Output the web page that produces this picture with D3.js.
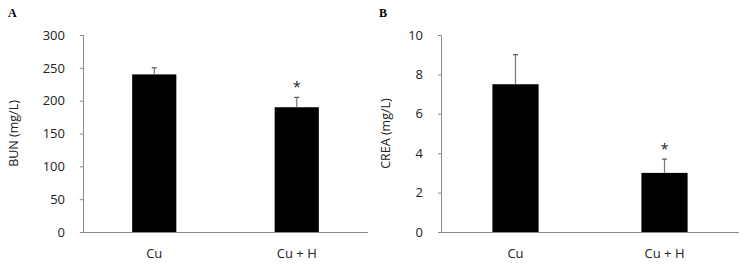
<!DOCTYPE html>
<html>
<head>
<meta charset="utf-8">
<script src="https://cdn.jsdelivr.net/npm/d3@7"></script>
<style>
  body { margin: 0; background: #fff; }
</style>
</head>
<body>
<div id="plot"></div>
<script>
// Data
const groups = ["Cu", "Cu + H"];
const bunMeans = [240, 190];
const bunErrors = [10, 15];
const creaMeans = [7.5, 3.0];
const creaErrors = [1.5, 0.7];
const bunTicks = [0, 50, 100, 150, 200, 250, 300];
const creaTicks = [0, 2, 4, 6, 8, 10];
const significant = [false, true];

const width = 742, height = 264;
const sans = "'Open Sans', 'Noto Sans', sans-serif";

const svg = d3.select("#plot")
    .append("svg")
    .attr("width", width)
    .attr("height", height);

// Draw one panel
function drawPanel(opt) {
    const g = svg.append("g");

    const x = d3.scaleBand()
        .domain(groups)
        .range([opt.left, opt.right])
        .paddingInner(0.69)
        .paddingOuter(0.345);

    const y = d3.scaleLinear()
        .domain([0, opt.max])
        .range([232, 35]);

    // y axis
    const yAxis = g.append("g")
        .attr("transform", `translate(${opt.left},0)`)
        .call(d3.axisLeft(y).tickValues(opt.ticks).tickSize(3).tickPadding(15));
    yAxis.select(".domain").attr("stroke", "#8a8a8a");
    yAxis.selectAll(".tick line").attr("stroke", "#8a8a8a");
    yAxis.selectAll(".tick text")
        .attr("fill", "#222")
        .style("font-family", sans)
        .style("font-size", "13px");

    // x axis line
    g.append("line")
        .attr("x1", opt.left).attr("x2", opt.right)
        .attr("y1", y(0) + 0.5).attr("y2", y(0) + 0.5)
        .attr("stroke", "#8a8a8a");

    // bars
    g.selectAll("rect.bar")
        .data(groups)
        .enter()
        .append("rect")
        .attr("class", "bar")
        .attr("x", d => x(d))
        .attr("width", x.bandwidth())
        .attr("y", (d, i) => y(opt.means[i]))
        .attr("height", (d, i) => y(0) - y(opt.means[i]))
        .attr("fill", "#000");

    // error bars (upper only)
    groups.forEach((d, i) => {
        const cx = x(d) + x.bandwidth() / 2;
        const top = y(opt.means[i] + opt.errors[i]);
        g.append("line")
            .attr("x1", cx).attr("x2", cx)
            .attr("y1", y(opt.means[i])).attr("y2", top)
            .attr("stroke", "#777").attr("stroke-width", 1.2);
        g.append("line")
            .attr("x1", cx - 2.5).attr("x2", cx + 2.5)
            .attr("y1", top).attr("y2", top)
            .attr("stroke", "#555").attr("stroke-width", 1.2);
        if (significant[i]) {
            g.append("text")
                .attr("x", cx)
                .attr("y", top - 5)
                .attr("text-anchor", "middle")
                .attr("fill", "#222")
                .style("font-family", sans)
                .style("font-size", "14px")
                .text("*");
        }
        // category labels
        g.append("text")
            .attr("x", cx)
            .attr("y", 258)
            .attr("text-anchor", "middle")
            .attr("fill", "#222")
            .style("font-family", sans)
            .style("font-size", "13px")
            .text(d);
    });

    // y label
    g.append("text")
        .attr("transform", `translate(${opt.labelX},${(y(0) + y(opt.max)) / 2}) rotate(-90)`)
        .attr("text-anchor", "middle")
        .attr("dy", "0.35em")
        .attr("fill", "#222")
        .style("font-family", sans)
        .style("font-size", "12.5px")
        .text(opt.label);

    // panel letter
    g.append("text")
        .attr("x", opt.letterX)
        .attr("y", 17)
        .attr("fill", "#000")
        .style("font-family", "'Liberation Serif', 'DejaVu Serif', serif")
        .style("font-weight", "bold")
        .style("font-size", "12px")
        .text(opt.letter);
}

drawPanel({
    left: 83, right: 368, max: 300, ticks: bunTicks,
    means: bunMeans, errors: bunErrors,
    label: "BUN (mg/L)", labelX: 14, letter: "A", letterX: 8
});

drawPanel({
    left: 441, right: 739, max: 10, ticks: creaTicks,
    means: creaMeans, errors: creaErrors,
    label: "CREA (mg/L)", labelX: 386, letter: "B", letterX: 379
});
</script>
</body>
</html>
